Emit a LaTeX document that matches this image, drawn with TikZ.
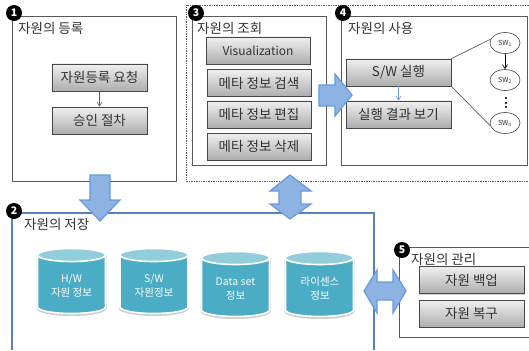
\documentclass[tikz,border=0pt]{standalone}
\usepackage{fontspec}
\setmainfont{Noto Sans CJK KR}
\usetikzlibrary{shapes.geometric,shadows,arrows.meta}
\definecolor{arrowfill}{HTML}{8DB3E2}
\definecolor{arrowline}{HTML}{6699DD}
\definecolor{boxline}{HTML}{595959}
\definecolor{textgray}{HTML}{333333}
\definecolor{dbbody}{HTML}{4BACC6}
\definecolor{dbtop}{HTML}{92CDDC}
\def\dbdrum(#1,#2){
	\fill[black!20] (#1-35,#2) -- (#1-35,#2+53.5) arc[start angle=180, end angle=0, x radius=35, y radius=7.5] -- (#1+35,#2) -- cycle;
	\draw[white, line width=1.6pt, fill=dbbody] (#1-34,#2) -- (#1-34,#2+52) arc[start angle=180, end angle=0, x radius=34, y radius=6.5] -- (#1+34,#2) -- cycle;
	\draw[white, line width=1.6pt, fill=dbtop] (#1,#2) ellipse[x radius=34, y radius=6.5];
}
\tikzset{
	panel/.style={draw=boxline, line width=0.8pt},
	paneltitle/.style={anchor=west, inner sep=0pt, font=\fontsize{13.5}{15}\selectfont, text=textgray},
	btn/.style={draw=boxline!80!black, line width=0.8pt, top color=black!6, bottom color=black!32,
		minimum height=27pt, inner sep=0pt, font=\fontsize{13.5}{15}\selectfont, text=textgray,
		drop shadow={shadow xshift=1pt, shadow yshift=-1pt, fill=black!35}},
	badge/.style={circle, fill=black, text=white, minimum size=16pt, inner sep=0pt, font=\fontsize{10.5}{12}\bfseries\selectfont},
	swnode/.style={ellipse, draw=boxline, line width=0.7pt, fill=white, minimum width=30pt, minimum height=21pt,
		inner sep=0pt, font=\fontsize{7}{8}\selectfont, text=textgray},
	dbtext/.style={inner sep=0pt, align=center, text=white, font=\fontsize{10.5}{14}\selectfont},
	bigarrow/.style={draw=arrowline, fill=arrowfill, line width=1.2pt, line join=miter},
	thinarrow/.style={-{Straight Barb[length=4pt,width=5pt]}, line width=0.6pt}
}
\begin{document}
\begin{tikzpicture}[x=1pt, y=-1pt]
	\useasboundingbox (0,0) rectangle (529,350);

	%%%%% panels %%%%%
	\draw[boxline, densely dotted, line width=0.7pt] (529,5) -- (186,5) -- (186,181) -- (529,181);
	\draw[panel] (12,16) rectangle (176,181);
	\draw[panel] (192,16) rectangle (326,165);
	\draw[panel] (341,16) rectangle (527,165);
	\draw[panel] (529,247) -- (399,247) -- (399,337) -- (529,337);
	\draw[arrowline!85!black, line width=1.3pt] (12,350) -- (12,213) -- (374,213) -- (374,350);

	%%%%% titles %%%%%
	\node[paneltitle] (title1) at (18,28) {자원의 등록};
	\node[paneltitle] (title3) at (197,28) {자원의 조회};
	\node[paneltitle] (title4) at (348,28) {자원의 사용};
	\node[paneltitle] (title2) at (24,224) {자원의 저장};
	\node[paneltitle] (title5) at (411,259) {자원의 관리};

	%%%%% register %%%%%
	\node[btn, minimum width=95pt] (request) at (99.5,77.5) {자원등록 요청};
	\node[btn, minimum width=95pt] (approve) at (99.5,120.5) {승인 절차};
	\draw[thinarrow, boxline] (request) -- (approve);

	%%%%% search %%%%%
	\node[btn, minimum width=104pt, font=\fontsize{12}{14}\selectfont] (visual) at (258,50.5) {Visualization};
	\node[btn, minimum width=104pt] (metafind) at (259,83) {메타 정보 검색};
	\node[btn, minimum width=104pt] (metaedit) at (259,114.5) {메타 정보 편집};
	\node[btn, minimum width=104pt] (metadel) at (259,146.5) {메타 정보 삭제};

	%%%%% use %%%%%
	\node[btn, minimum width=105pt] (swrun) at (398.5,72.5) {S/W 실행};
	\node[btn, minimum width=105pt] (result) at (398.5,114.5) {실행 결과 보기};
	\draw[thinarrow, arrowline] (swrun) -- (result);
	\node[swnode] (sw1) at (505,43) {SW\textsubscript{1}};
	\node[swnode] (sw2) at (505,80) {SW\textsubscript{2}};
	\node[swnode] (swn) at (505,123) {SW\textsubscript{n}};
	\coordinate (dotstop) at (506,97.5);
	\coordinate (dotsend) at (506,108);
	\draw[textgray, line width=1.5pt, dash pattern=on 1.8pt off 2.55pt] (dotstop) -- (dotsend);
	\draw[thinarrow, black] (sw1) -- (sw2);
	\draw[boxline, line width=0.7pt] (swrun.north east) -- (sw1.165);
	\draw[boxline, line width=0.7pt] (swrun.south east) -- (swn.190);

	%%%%% store %%%%%
	\dbdrum(71.5,255)
	\dbdrum(154,255)
	\dbdrum(235.5,258)
	\dbdrum(319.5,258)
	\node[dbtext] (txthw) at (71.5,286) {H/W\\자원 정보};
	\node[dbtext] (txtsw) at (154,286) {S/W\\자원정보};
	\node[dbtext] (txtset) at (235.5,289) {Data set\\정보};
	\node[dbtext] (txtlic) at (320,289) {라이센스\\정보};

	%%%%% manage %%%%%
	\node[btn, minimum width=105pt] (backup) at (471.5,280) {자원 백업};
	\node[btn, minimum width=105pt] (restore) at (471.5,313.5) {자원 복구};

	%%%%% big arrows %%%%%
	\draw[bigarrow] (90,175) -- (110,175) -- (110,200) -- (120,200) -- (100,221) -- (80,200) -- (90,200) -- cycle;
	\draw[bigarrow] (319,85) -- (335,85) -- (335,74) -- (352,95) -- (335,116) -- (335,106) -- (319,106) -- cycle;
	\draw[bigarrow] (290,175) -- (311,191) -- (301,191) -- (301,204) -- (311,204) -- (290,219) -- (270,204) -- (279,204) -- (279,191) -- (270,191) -- cycle;
	\draw[bigarrow] (364,291) -- (377,270) -- (377,282) -- (393,282) -- (393,270) -- (406,291) -- (393,313) -- (393,300) -- (377,300) -- (377,313) -- cycle;

	%%%%% numbers %%%%%
	\node[badge] (num1) at (14,13) {1};
	\node[badge] (num2) at (14,211) {2};
	\node[badge] (num3) at (196,13) {3};
	\node[badge] (num4) at (343,13) {4};
	\node[badge] (num5) at (402,250) {5};
\end{tikzpicture}
\end{document}
